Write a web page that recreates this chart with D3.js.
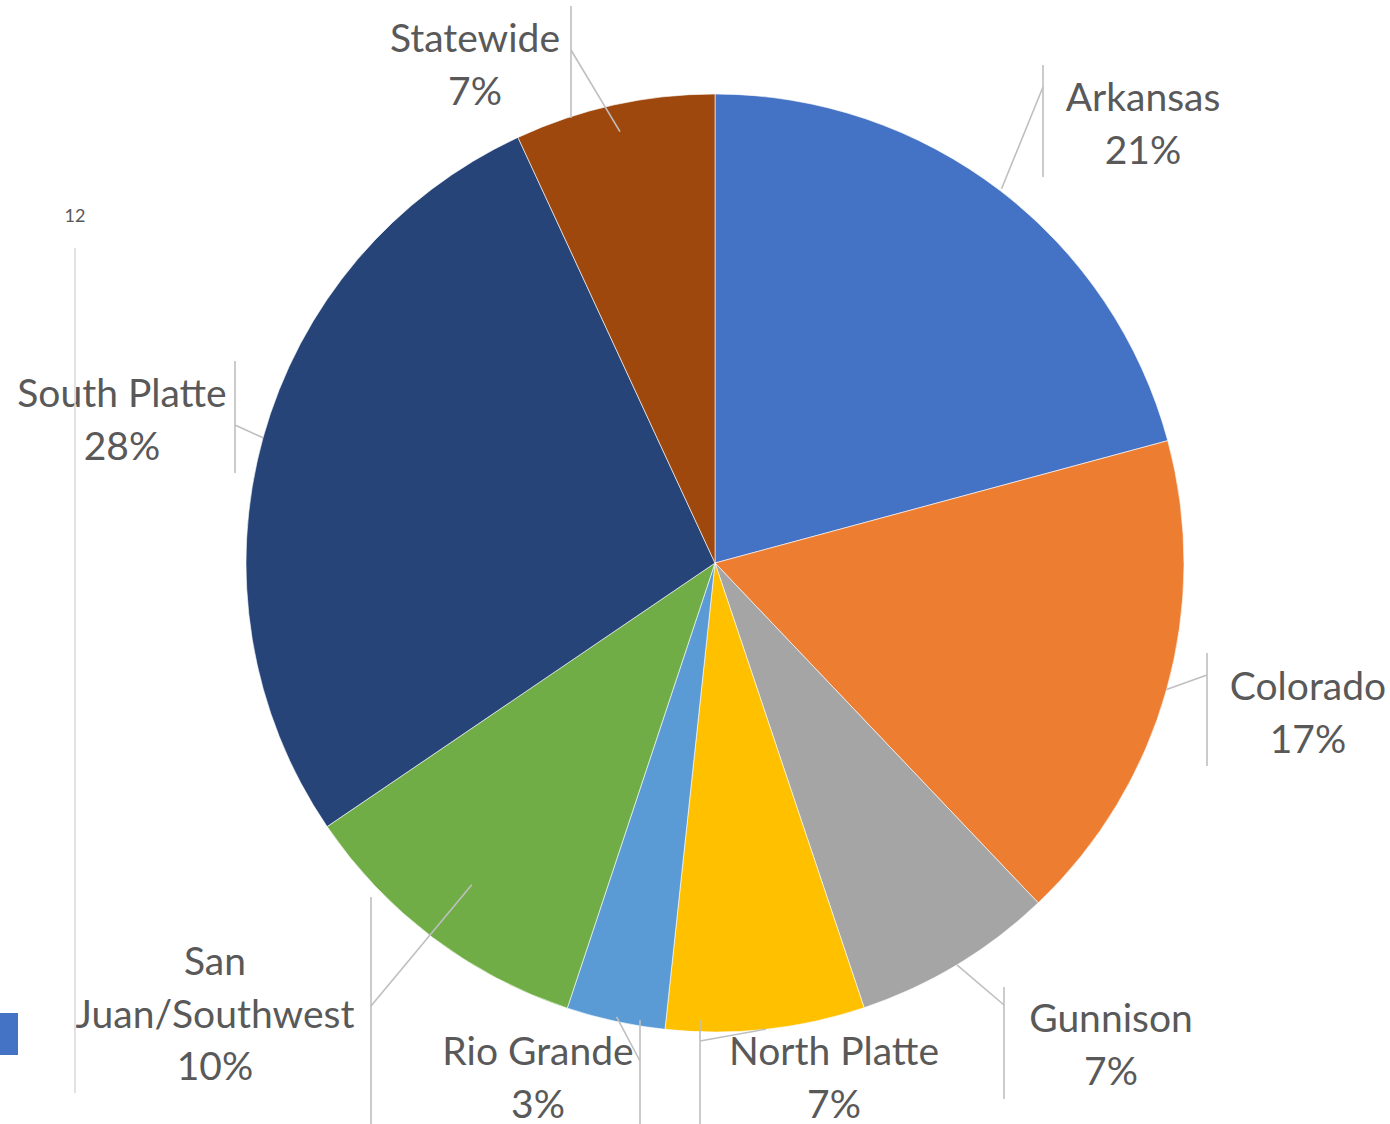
<!DOCTYPE html>
<html>
<head>
<meta charset="utf-8">
<script src="https://cdn.jsdelivr.net/npm/d3@7"></script>
<style>
  html, body { margin: 0; padding: 0; background: #fff; }
  svg { display: block; }
  text { font-family: Lato, "Open Sans", sans-serif; fill: #595959; }
</style>
</head>
<body>
<svg id="chart" width="1390" height="1124"></svg>
<script>
// Basin shares of the total, clockwise from 12 o'clock
const regions = ["Arkansas", "Colorado", "Gunnison", "North Platte", "Rio Grande",
                 "San Juan/Southwest", "South Platte", "Statewide"];
const shares = [20.8, 17.1, 6.95, 6.85, 3.4, 10.4, 27.6, 6.9];
const sliceColors = ["#4472C4", "#ED7D31", "#A5A5A5", "#FFC000", "#5B9BD5",
                     "#70AD47", "#264478", "#9E480E"];

// Data-label placement: text centre, first baseline, the label box edge the
// leader meets, the leader's end height, and how far out on the slice it starts.
const labelLayout = [
  { cx: 1143, y0: 111, edgeX: 1043, boxTop: 65,  boxBottom: 177,  endY: 87,   startR: 1.005 },
  { cx: 1308, y0: 700, edgeX: 1207, boxTop: 653, boxBottom: 766,  endY: 675,  startR: 1.0 },
  { cx: 1111, y0: 1032, edgeX: 1004, boxTop: 987, boxBottom: 1099, endY: 1005, startR: 1.0 },
  { cx: 834,  y0: 1065, edgeX: 700, boxTop: 1020, boxBottom: 1124, endY: 1041, startR: 1.0 },
  { cx: 538,  y0: 1065, edgeX: 640, boxTop: 1020, boxBottom: 1124, endY: 1061, startR: 0.99 },
  { cx: 215,  y0: 975, edgeX: 371, boxTop: 897, boxBottom: 1124,  endY: 1006, startR: 0.86 },
  { cx: 122,  y0: 407, edgeX: 235, boxTop: 361, boxBottom: 473,   endY: 425,  startR: 1.0 },
  { cx: 475,  y0: 52,  edgeX: 571, boxTop: 6,   boxBottom: 118,   endY: 50,   startR: 0.942 }
];

const data = regions.map((name, i) => ({ name, value: shares[i], color: sliceColors[i] }));
const total = d3.sum(shares);
const pct = d3.format(".0%");

const svg = d3.select("#chart");
const cx = 715, cy = 563, radius = 469;

const pie = d3.pie().sort(null).value(d => d.value);
const arcs = pie(data);
const arc = d3.arc().innerRadius(0).outerRadius(radius);

const g = svg.append("g").attr("transform", `translate(${cx},${cy})`);

g.selectAll("path.slice")
  .data(arcs)
  .enter().append("path")
  .attr("class", "slice")
  .attr("d", arc)
  .attr("fill", d => d.data.color)
  .attr("stroke", "#fff")
  .attr("stroke-width", 0.6);

// Leader lines and label box edges
const leaders = svg.append("g")
  .attr("stroke", "#BFBFBF")
  .attr("stroke-width", 1.6)
  .attr("fill", "none");

arcs.forEach((d, i) => {
  const L = labelLayout[i];
  const mid = (d.startAngle + d.endAngle) / 2;
  const r = radius * L.startR;
  const sx = cx + Math.sin(mid) * r;
  const sy = cy - Math.cos(mid) * r;
  leaders.append("line")
    .attr("x1", L.edgeX).attr("x2", L.edgeX)
    .attr("y1", L.boxTop).attr("y2", L.boxBottom);
  leaders.append("line")
    .attr("x1", sx).attr("y1", sy)
    .attr("x2", L.edgeX).attr("y2", L.endY);
});

// Data labels: category name over its rounded share
const labels = svg.append("g")
  .attr("text-anchor", "middle")
  .style("font-size", "39px");

arcs.forEach((d, i) => {
  const L = labelLayout[i];
  const name = d.data.name;
  const nameLines = name.length > 14
    ? [name.slice(0, name.indexOf(" ")), name.slice(name.indexOf(" ") + 1)]
    : [name];
  const lines = nameLines.concat(pct(d.data.value / total));
  const t = labels.append("text").attr("x", L.cx).attr("y", L.y0);
  lines.forEach((s, k) => {
    t.append("tspan").attr("x", L.cx).attr("dy", k === 0 ? 0 : 52.5).text(s);
  });
});

// Partly visible legend remnant along the left edge
const legend = svg.append("g");
legend.append("text")
  .attr("x", 75).attr("y", 222)
  .attr("text-anchor", "middle")
  .style("font-size", "18px")
  .text("12");
legend.append("line")
  .attr("x1", 75).attr("x2", 75)
  .attr("y1", 248).attr("y2", 1093)
  .attr("stroke", "#D9D9D9").attr("stroke-width", 1.5);
legend.append("rect")
  .attr("x", 0).attr("y", 1013)
  .attr("width", 18).attr("height", 42)
  .attr("fill", sliceColors[0]);
</script>
</body>
</html>
